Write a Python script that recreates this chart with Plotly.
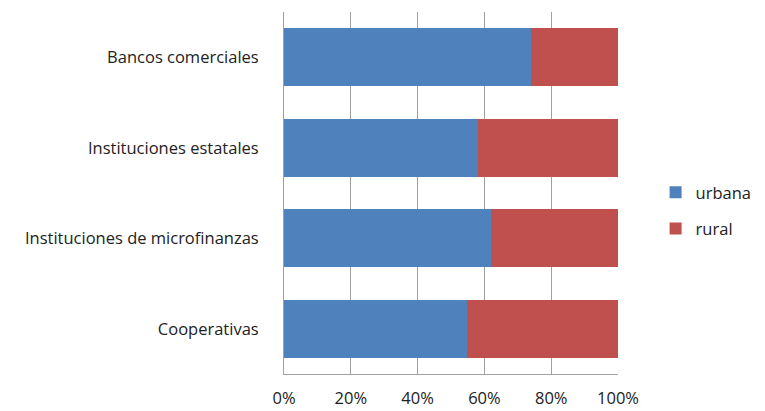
import plotly.graph_objects as go

categories = ["Bancos comerciales", "Instituciones estatales", "Instituciones de microfinanzas", "Cooperativas"]
urbana = [74.0, 58.2, 62.0, 54.8]
rural = [26.0, 41.8, 38.0, 45.2]
x_ticks = [0, 20, 40, 60, 80, 100]
x_tick_labels = ["0%", "20%", "40%", "60%", "80%", "100%"]

cats_plot = categories[::-1]
fig = go.Figure()
fig.add_trace(go.Bar(y=cats_plot, x=urbana[::-1], name="urbana", orientation="h",
                     legendgroup="u",
                     marker=dict(color="#4F81BD", line=dict(width=0))))
fig.add_trace(go.Bar(y=cats_plot, x=rural[::-1], name="rural", orientation="h",
                     legendgroup="r",
                     marker=dict(color="#C0504D", line=dict(width=0))))

fig.update_layout(
    barmode="stack",
    bargap=0.36,
    width=765, height=411,
    margin=dict(l=284, r=147, t=12, b=37, autoexpand=False),
    paper_bgcolor="white", plot_bgcolor="white",
    font=dict(family="Open Sans", size=16, color="#222222"),
    legend=dict(xref="container", yref="container", x=0.857, y=0.488,
                xanchor="left", yanchor="middle",
                font=dict(size=16.5), tracegroupgap=12, itemwidth=30,
                traceorder="grouped"),
    xaxis=dict(range=[0, 100], tickvals=x_ticks, ticktext=x_tick_labels,
               showgrid=True, gridcolor="#A0A0A0", gridwidth=1, automargin=False,
               zeroline=False, showline=True, linecolor="#A0A0A0", linewidth=1,
               ticks="", tickfont=dict(size=16.5), ticklabelstandoff=9, mirror=False),
    yaxis=dict(showgrid=False, zeroline=False, showline=True, linecolor="#A0A0A0",
               linewidth=1, ticks="", tickfont=dict(size=16.5), ticklabelstandoff=21,
               automargin=False),
)
fig.write_html("out.html")
